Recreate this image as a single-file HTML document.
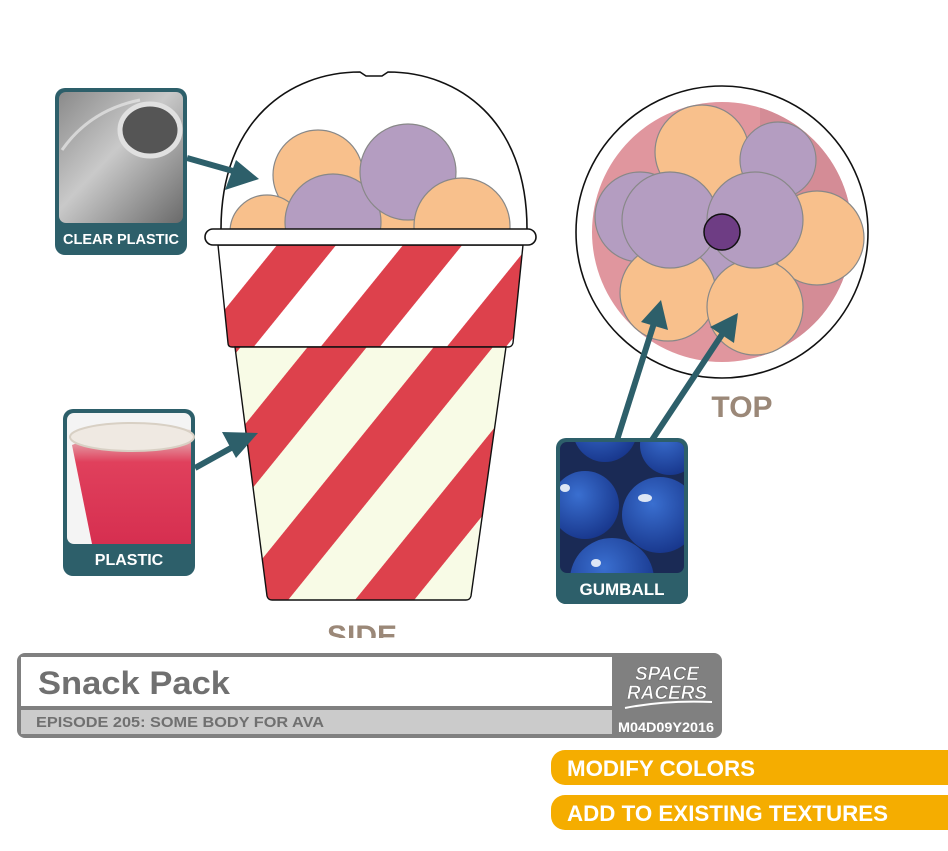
<!DOCTYPE html>
<html><head><meta charset="utf-8"><style>
html,body{margin:0;padding:0;background:#fff;width:948px;height:851px;overflow:hidden}
svg{display:block}
text{font-family:"Liberation Sans",sans-serif}
</style></head><body>
<svg width="948" height="851" viewBox="0 0 948 851" xmlns="http://www.w3.org/2000/svg">
<defs>
<pattern id="sc" patternUnits="userSpaceOnUse" width="98" height="98" patternTransform="translate(355,600) rotate(39)">
<rect width="98" height="98" fill="#f8fbe6"/><rect width="46" height="98" fill="#dd414c"/>
</pattern>
<pattern id="sw" patternUnits="userSpaceOnUse" width="98" height="98" patternTransform="translate(277,245) rotate(39)">
<rect width="98" height="98" fill="#ffffff"/><rect width="46" height="98" fill="#dd414c"/>
</pattern>
<clipPath id="dome"><path d="M221,229 C221,120 290,72 374,72 C458,72 527,120 527,229 Z"/></clipPath>
<clipPath id="sideclip"><rect x="0" y="600" width="948" height="38"/></clipPath>
<clipPath id="pinkc"><circle cx="722" cy="232" r="130"/></clipPath>
<clipPath id="gbclip"><rect x="560" y="442" width="124" height="131" rx="7"/></clipPath>
<linearGradient id="glass" x1="0" y1="0" x2="1" y2="1"><stop offset="0" stop-color="#8a8a8a"/><stop offset="0.45" stop-color="#c9c9c9"/><stop offset="1" stop-color="#6a6a6a"/></linearGradient>
<linearGradient id="cup" x1="0" y1="0" x2="0" y2="1"><stop offset="0" stop-color="#e8e2dc"/><stop offset="0.3" stop-color="#e0405c"/><stop offset="1" stop-color="#d62f50"/></linearGradient>
<radialGradient id="gb" cx="0.4" cy="0.35" r="0.7"><stop offset="0" stop-color="#3a6fd0"/><stop offset="1" stop-color="#17358a"/></radialGradient>
</defs>

<g clip-path="url(#dome)">
<circle cx="390" cy="228" r="40" fill="#f8c08c" stroke="#888" stroke-width="1.2"/>
<circle cx="318" cy="175" r="45" fill="#f8c08c" stroke="#888" stroke-width="1.2"/>
<circle cx="267" cy="232" r="37" fill="#f8c08c" stroke="#888" stroke-width="1.2"/>
<circle cx="333" cy="222" r="48" fill="#b49dc1" stroke="#888" stroke-width="1.2"/>
<circle cx="408" cy="172" r="48" fill="#b49dc1" stroke="#888" stroke-width="1.2"/>
<circle cx="462" cy="226" r="48" fill="#f8c08c" stroke="#888" stroke-width="1.2"/>
</g>
<path d="M221,229 C221,120 290,72 360,72 L366,76 L382,76 L388,72 C458,72 527,120 527,229" fill="none" stroke="#111" stroke-width="1.6"/>

<path d="M218,245 L523,245 L513,343 Q512,347 508,347 L232,347 Q228,347 228,343 Z" fill="url(#sw)" stroke="#111" stroke-width="1.4"/>
<path d="M235,347 L506,347 L471,596 Q470,600 466,600 L272,600 Q268,600 267,596 Z" fill="url(#sc)" stroke="#111" stroke-width="1.4"/>
<rect x="205" y="229" width="331" height="16" rx="8" fill="#fff" stroke="#111" stroke-width="1.6"/>

<text x="362" y="646" text-anchor="middle" font-size="30" font-weight="bold" fill="#9b8878" clip-path="url(#sideclip)">SIDE</text>

<circle cx="722" cy="232" r="146" fill="#fff" stroke="#111" stroke-width="1.6"/>
<circle cx="722" cy="232" r="130" fill="#e0969e"/>
<g clip-path="url(#pinkc)"><rect x="760" y="90" width="120" height="280" fill="#d48c96"/></g>
<g stroke="#888" stroke-width="1.2">
<circle cx="702" cy="152" r="47" fill="#f8c08c"/>
<circle cx="778" cy="160" r="38" fill="#b49dc1"/>
<circle cx="817" cy="238" r="47" fill="#f8c08c"/>
<circle cx="640" cy="217" r="45" fill="#b49dc1"/>
<circle cx="730" cy="260" r="30" fill="#b49dc1"/>
<circle cx="668" cy="293" r="48" fill="#f8c08c"/>
<circle cx="755" cy="307" r="48" fill="#f8c08c"/>
<circle cx="670" cy="220" r="48" fill="#b49dc1"/>
<circle cx="755" cy="220" r="48" fill="#b49dc1"/>
</g>
<circle cx="722" cy="232" r="18" fill="#6e3d84" stroke="#111" stroke-width="1.5"/>
<text x="742" y="417" text-anchor="middle" font-size="30" font-weight="bold" fill="#9b8878">TOP</text>

<g stroke="#2d5f6a" stroke-width="6" fill="#2d5f6a">
<line x1="187" y1="158" x2="240" y2="173"/>
<line x1="195" y1="468" x2="240" y2="443"/>
<line x1="617" y1="440" x2="655" y2="320"/>
<line x1="652" y1="440" x2="725" y2="330"/>
</g>
<g fill="#2d5f6a">
<polygon points="259,179 225,190 236,160"/>
<polygon points="258,433 236,458 222,432"/>
<polygon points="661,300 668,330 641,322"/>
<polygon points="738,313 734,343 710,327"/>
</g>

<rect x="55" y="88" width="132" height="167" rx="10" fill="#2d5f6a"/>
<rect x="59" y="92" width="124" height="131" rx="7" fill="url(#glass)"/>
<ellipse cx="150" cy="130" rx="30" ry="26" fill="#555" stroke="#e0e0e0" stroke-width="5"/>
<path d="M62,150 Q90,110 140,100" fill="none" stroke="#e8e8e8" stroke-width="3" opacity="0.7"/>
<text x="121" y="244" text-anchor="middle" font-size="15" font-weight="bold" fill="#fff" textLength="116" lengthAdjust="spacingAndGlyphs">CLEAR PLASTIC</text>

<rect x="63" y="409" width="132" height="167" rx="10" fill="#2d5f6a"/>
<rect x="67" y="413" width="124" height="131" rx="7" fill="#f4f4f4"/>
<path d="M72,445 Q130,420 191,430 L191,544 L92,544 Z" fill="url(#cup)"/>
<ellipse cx="132" cy="437" rx="62" ry="14" fill="#efe9e2" stroke="#d8d0c4" stroke-width="2"/>
<text x="129" y="565" text-anchor="middle" font-size="16" font-weight="bold" fill="#fff">PLASTIC</text>

<rect x="556" y="438" width="132" height="166" rx="10" fill="#2d5f6a"/>
<rect x="560" y="442" width="124" height="131" rx="7" fill="#1a2a55"/>
<g clip-path="url(#gbclip)">
<circle cx="605" cy="430" r="32" fill="url(#gb)"/>
<circle cx="670" cy="445" r="30" fill="url(#gb)"/>
<circle cx="585" cy="505" r="34" fill="url(#gb)"/>
<circle cx="660" cy="515" r="38" fill="url(#gb)"/>
<circle cx="612" cy="580" r="42" fill="url(#gb)"/>
<ellipse cx="645" cy="498" rx="7" ry="4" fill="#dde6f5"/>
<ellipse cx="565" cy="488" rx="5" ry="4" fill="#dde6f5"/>
<ellipse cx="596" cy="563" rx="5" ry="4" fill="#dde6f5"/>
</g>
<rect x="556" y="573" width="132" height="31" rx="10" fill="#2d5f6a"/>
<rect x="556" y="573" width="132" height="15" fill="#2d5f6a"/>
<text x="622" y="595" text-anchor="middle" font-size="17" font-weight="bold" fill="#fff">GUMBALL</text>

<rect x="17" y="653" width="705" height="85" rx="8" fill="#808080"/>
<rect x="21" y="657" width="591" height="49" fill="#fff"/>
<rect x="21" y="710" width="591" height="24" fill="#cbcbcb"/>
<text x="38" y="694" font-size="32" font-weight="bold" fill="#707070" textLength="192" lengthAdjust="spacingAndGlyphs">Snack Pack</text>
<text x="36" y="727" font-size="15" font-weight="bold" fill="#707070" textLength="288" lengthAdjust="spacingAndGlyphs">EPISODE 205: SOME BODY FOR AVA</text>
<text x="667" y="680" text-anchor="middle" font-size="19" font-weight="bold" font-style="italic" fill="#fff" stroke="#6a6a6a" stroke-width="0.6">SPACE</text>
<text x="667" y="699" text-anchor="middle" font-size="19" font-weight="bold" font-style="italic" fill="#fff" stroke="#6a6a6a" stroke-width="0.6">RACERS</text>
<path d="M625,708 Q665,700 712,702" fill="none" stroke="#fff" stroke-width="2"/>
<text x="666" y="732" text-anchor="middle" font-size="14" font-weight="bold" fill="#fff" textLength="96" lengthAdjust="spacingAndGlyphs">M04D09Y2016</text>

<rect x="551" y="750" width="420" height="35" rx="14" fill="#f5ad00"/>
<rect x="551" y="795" width="420" height="35" rx="14" fill="#f5ad00"/>
<text x="567" y="776" font-size="22" font-weight="bold" fill="#fff" textLength="188" lengthAdjust="spacingAndGlyphs">MODIFY COLORS</text>
<text x="567" y="821" font-size="22" font-weight="bold" fill="#fff" textLength="321" lengthAdjust="spacingAndGlyphs">ADD TO EXISTING TEXTURES</text>
</svg>
</body></html>
